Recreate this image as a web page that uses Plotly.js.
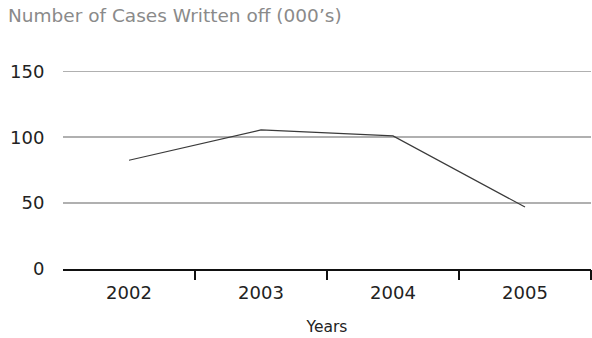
<!DOCTYPE html>
<html>
<head>
<meta charset="utf-8">
<script src="https://cdn.plot.ly/plotly-3.0.1.min.js"></script>
<style>html,body{margin:0;padding:0;background:#fff;}#chart{width:592px;height:338px;}</style>
</head>
<body>
<div id="chart"></div>
<script>
const years = ["2002", "2003", "2004", "2005"];
const casesWrittenOff = [82.5, 105.5, 101, 47];
const yTickValues = [0, 50, 100, 150];
const yTickLabels = ["0", "50", "100", "150"];

const font = "'DejaVu Sans', sans-serif";
const idx = years.map((_, i) => i);
const boundaries = years.map((_, i) => i + 0.5);

Plotly.newPlot("chart", [{
  type: "scatter",
  mode: "lines",
  x: idx,
  y: casesWrittenOff,
  line: {color: "#3a3a3a", width: 1.2},
  hoverinfo: "skip"
}, {
  type: "scatter",
  mode: "none",
  x: [],
  y: [],
  xaxis: "x2",
  hoverinfo: "skip"
}], {
  width: 592,
  height: 338,
  margin: {l: 63, r: 1, t: 70, b: 69},
  paper_bgcolor: "#fff",
  plot_bgcolor: "#fff",
  showlegend: false,
  font: {family: font, color: "#222", size: 18},
  title: {
    text: "Number of Cases Written off (000’s)",
    font: {family: font, size: 18.5, color: "#8a8a8a"},
    xref: "container", yref: "container",
    x: 8 / 592, xanchor: "left",
    y: 1 - 9 / 338, yanchor: "top"
  },
  xaxis: {
    range: [-0.5, 3.5],
    tickvals: idx,
    ticktext: years,
    ticks: "outside",
    ticklen: 7,
    tickcolor: "rgba(0,0,0,0)",
    showline: true,
    linecolor: "#111",
    linewidth: 1.5,
    showgrid: false,
    zeroline: false,
    tickfont: {family: font, size: 18, color: "#222"},
    title: {text: "Years", font: {family: font, size: 15.5, color: "#222"}, standoff: 19},
    fixedrange: true
  },
  xaxis2: {
    overlaying: "x",
    side: "bottom",
    anchor: "y",
    range: [-0.5, 3.5],
    tickvals: boundaries,
    ticks: "outside",
    ticklen: 10,
    tickwidth: 1.5,
    tickcolor: "#111",
    showticklabels: false,
    showline: false,
    showgrid: false,
    zeroline: false,
    fixedrange: true
  },
  yaxis: {
    range: [0, 151],
    tickvals: yTickValues,
    ticktext: yTickLabels,
    showgrid: true,
    gridcolor: "#b0b0b0",
    gridwidth: 1.5,
    zeroline: false,
    showline: false,
    ticks: "outside",
    ticklen: 14,
    tickcolor: "rgba(0,0,0,0)",
    tickfont: {family: font, size: 18, color: "#222"},
    fixedrange: true
  }
}, {staticPlot: true, displayModeBar: false});
</script>
</body>
</html>
